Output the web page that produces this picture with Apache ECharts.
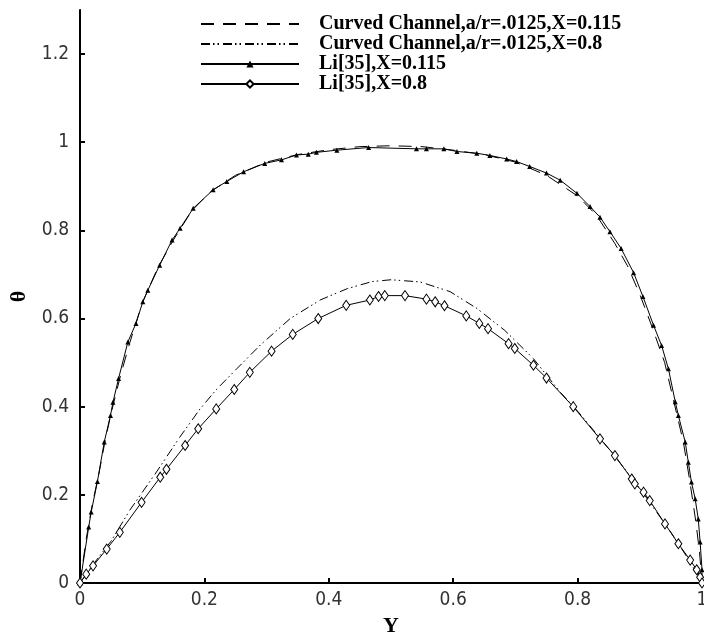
<!DOCTYPE html>
<html>
<head>
<meta charset="utf-8">
<script src="https://cdn.jsdelivr.net/npm/echarts@6/dist/echarts.min.js"></script>
<style>
html,body{margin:0;padding:0;background:#fff;}
#chart{width:704px;height:632px;}
</style>
</head>
<body>
<div id="chart"></div>
<script>
// Series names
const seriesNames = [
  'Curved Channel,a/r=.0125,X=0.115',
  'Curved Channel,a/r=.0125,X=0.8',
  'Li[35],X=0.115',
  'Li[35],X=0.8'
];
// Axis ticks
const xTicks = [0, 0.2, 0.4, 0.6, 0.8, 1];
const yTicks = [0, 0.2, 0.4, 0.6, 0.8, 1, 1.2];

// Curved Channel, X=0.115 (dashed)
const cc115Y = [0,0.01,0.02,0.03,0.04,0.05,0.065,0.08,0.1,0.125,0.15,0.18,0.21,0.25,0.3,0.35,0.4,0.45,0.5,0.55,0.6,0.65,0.7,0.75,0.8,0.83,0.86,0.88,0.9,0.92,0.94,0.955,0.97,0.98,0.99,0.996,1];
const cc115T = [0,0.10,0.18,0.245,0.32,0.385,0.47,0.545,0.635,0.715,0.778,0.845,0.888,0.925,0.955,0.972,0.983,0.99,0.992,0.99,0.982,0.972,0.955,0.925,0.878,0.835,0.77,0.72,0.655,0.58,0.50,0.41,0.32,0.235,0.14,0.07,0];

// Curved Channel, X=0.8 (dash-dot-dot)
const cc08Y = [0,0.02,0.05,0.08,0.123,0.16,0.193,0.22,0.252,0.29,0.338,0.386,0.43,0.47,0.5,0.547,0.595,0.638,0.683,0.729,0.772,0.8,0.85,0.9,0.95,0.98,1];
const cc08T = [0,0.04,0.095,0.165,0.252,0.33,0.395,0.44,0.486,0.54,0.60,0.642,0.668,0.684,0.688,0.683,0.661,0.623,0.573,0.509,0.433,0.39,0.305,0.215,0.115,0.05,0];

// Li[35], X=0.115 (triangles)
const li115Y = [0,0.014,0.018,0.028,0.039,0.049,0.053,0.062,0.077,0.090,0.101,0.109,0.128,0.148,0.161,0.182,0.214,0.236,0.263,0.297,0.324,0.348,0.367,0.380,0.413,0.464,0.541,0.557,0.585,0.606,0.638,0.659,0.686,0.702,0.723,0.750,0.772,0.799,0.820,0.836,0.852,0.870,0.890,0.905,0.922,0.935,0.946,0.957,0.962,0.973,0.978,0.983,0.989,0.994,0.997,1.0,1.0];
const li115T = [0,0.127,0.161,0.230,0.320,0.380,0.410,0.464,0.547,0.589,0.638,0.664,0.721,0.778,0.805,0.850,0.892,0.911,0.933,0.952,0.960,0.971,0.973,0.977,0.982,0.988,0.985,0.985,0.985,0.979,0.975,0.970,0.962,0.956,0.945,0.930,0.914,0.884,0.854,0.830,0.797,0.759,0.704,0.650,0.585,0.539,0.486,0.411,0.380,0.320,0.274,0.229,0.191,0.145,0.093,0.030,0];

// Li[35], X=0.8 (diamonds)
const li08Y = [0,0.010,0.021,0.043,0.064,0.099,0.129,0.139,0.169,0.190,0.219,0.248,0.273,0.308,0.342,0.383,0.428,0.466,0.480,0.490,0.5225,0.557,0.571,0.586,0.621,0.642,0.656,0.689,0.699,0.729,0.750,0.793,0.836,0.860,0.887,0.892,0.906,0.916,0.9405,0.962,0.981,0.9915,0.997,1];
const li08T = [0,0.020,0.039,0.077,0.115,0.183,0.240,0.258,0.312,0.350,0.395,0.439,0.478,0.526,0.564,0.600,0.630,0.642,0.650,0.652,0.652,0.644,0.638,0.629,0.606,0.589,0.577,0.543,0.532,0.494,0.465,0.400,0.327,0.289,0.236,0.225,0.206,0.187,0.134,0.089,0.052,0.030,0.013,0];

const pairs = (xs, ys) => xs.map((x, i) => [x, ys[i]]);

const tickFont = {fontFamily: '"Liberation Sans Narrow","DejaVu Sans Condensed","Liberation Sans",sans-serif', fontSize: 19, color: '#333'};
const nameFont = {fontFamily: '"Liberation Serif","Times New Roman",serif', fontWeight: 'bold', fontSize: 22, color: '#000'};

const chart = echarts.init(document.getElementById('chart'), null, {renderer: 'canvas'});
chart.setOption({
  animation: false,
  backgroundColor: '#fff',
  grid: {left: 80, right: 2, top: 10, bottom: 49, containLabel: false, outerBoundsMode: 'none'},
  legend: {
    orient: 'vertical',
    left: 195,
    top: 9,
    itemWidth: 98,
    itemHeight: 9,
    itemGap: 0,
    data: [
      {name: seriesNames[0], itemStyle: {opacity: 0}},
      {name: seriesNames[1], itemStyle: {opacity: 0}},
      {name: seriesNames[2]},
      {name: seriesNames[3]}
    ],
    textStyle: {fontFamily: '"Liberation Serif","Times New Roman",serif', fontWeight: 'bold', fontSize: 20, lineHeight: 20, color: '#000', padding: [0, 0, 0, 15]}
  },
  xAxis: [{
    type: 'value', min: xTicks[0], max: xTicks[xTicks.length - 1], interval: 0.2,
    position: 'bottom',
    name: 'Y', nameLocation: 'middle', nameGap: 26, nameTextStyle: nameFont,
    axisLine: {show: true, lineStyle: {color: '#000', width: 2}},
    axisTick: {show: true, inside: true, length: 5, lineStyle: {color: '#000', width: 2}},
    axisLabel: Object.assign({margin: 8, formatter: v => String(v)}, tickFont),
    splitLine: {show: false}
  }, {
    type: 'value', min: 0, max: 1, position: 'top',
    axisLine: {show: true, lineStyle: {color: '#000', width: 2}},
    axisTick: {show: false}, axisLabel: {show: false}, splitLine: {show: false}
  }],
  yAxis: [{
    type: 'value', min: yTicks[0], max: 1.3, interval: 0.2,
    position: 'left',
    name: 'θ', nameLocation: 'middle', nameGap: 50, nameRotate: 90, nameTextStyle: nameFont,
    axisLine: {show: true, lineStyle: {color: '#000', width: 2}},
    axisTick: {show: true, inside: true, length: 5, lineStyle: {color: '#000', width: 2}},
    axisLabel: Object.assign({margin: 11, showMaxLabel: false, formatter: v => String(v)}, tickFont),
    splitLine: {show: false}
  }, {
    type: 'value', min: 0, max: 1.3, position: 'right',
    axisLine: {show: true, lineStyle: {color: '#000', width: 1}},
    axisTick: {show: false}, axisLabel: {show: false}, splitLine: {show: false}
  }],
  series: [{
    name: seriesNames[0], type: 'line', data: pairs(cc115Y, cc115T),
    symbol: 'none', itemStyle: {color: '#000'},
    lineStyle: {color: '#000', width: 1, type: [13, 9]}, z: 2
  }, {
    name: seriesNames[1], type: 'line', data: pairs(cc08Y, cc08T),
    symbol: 'none', itemStyle: {color: '#000'},
    lineStyle: {color: '#000', width: 1, type: [9, 3, 1.5, 3, 1.5, 4]}, z: 2
  }, {
    name: seriesNames[2], type: 'line', data: pairs(li115Y, li115T),
    symbol: 'triangle', symbolSize: 5, showAllSymbol: true,
    itemStyle: {color: '#000'},
    lineStyle: {color: '#000', width: 1, type: 'solid'}, z: 3
  }, {
    name: seriesNames[3], type: 'line', data: pairs(li08Y, li08T),
    symbol: 'diamond', symbolSize: [7, 10], showAllSymbol: true,
    itemStyle: {color: '#fff', borderColor: '#000', borderWidth: 1},
    lineStyle: {color: '#000', width: 1, type: 'solid'}, z: 3
  }]
});
</script>
</body>
</html>
